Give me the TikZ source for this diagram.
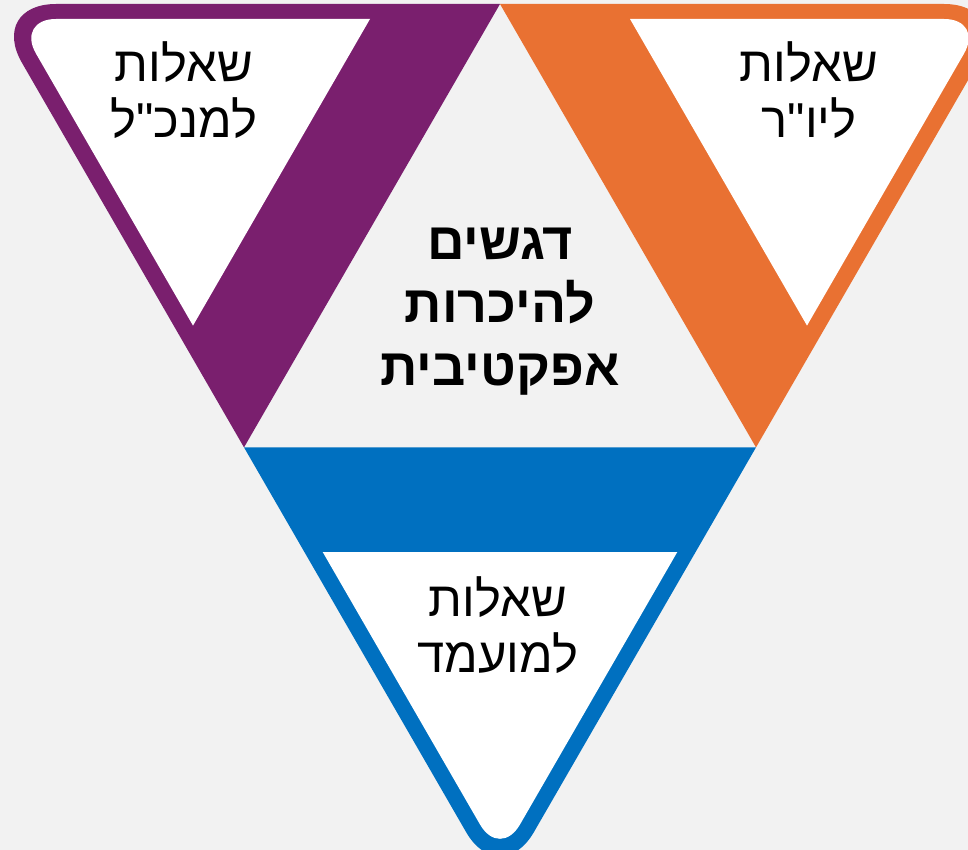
\documentclass[tikz,border=0pt]{standalone}
\usepackage{fontspec}
\setmainfont{Liberation Sans}
\newfontfamily\hebfont[Script=Hebrew]{Liberation Sans}
\TeXXeTstate=1
\definecolor{bgc}{HTML}{F2F2F2}
\definecolor{purp}{HTML}{7A1F6E}
\definecolor{oran}{HTML}{E97132}
\definecolor{blu}{HTML}{0070C0}
\tikzset{
  lbl/.style={inner sep=0pt, align=center, font=\hebfont\fontsize{49}{56}\selectfont, text=black},
  ctr/.style={inner sep=0pt, align=center, font=\hebfont\bfseries\fontsize{52}{63}\selectfont, text=black},
  inwhite/.style={fill=white}
}
\begin{document}
\begin{tikzpicture}[x=1pt,y=-1pt]
\useasboundingbox (0,0) rectangle (968,850);
\fill[bgc] (0,0) rectangle (968,850);
\clip (0,0) rectangle (968,850);
% purple
\fill[purp] (500,4) -- (244,447.4) -- (120,232.6) [rounded corners=68] -- (-12,4) -- (200,4) [sharp corners] -- cycle;
\fill[inwhite] (370,19) -- (193,325.6) -- (100,164.5) [rounded corners=40] -- (16,19) -- (200,19) [sharp corners] -- cycle;
% orange
\fill[oran] (500,4) -- (756,447.4) -- (880,232.6) [rounded corners=68] -- (1012,4) -- (800,4) [sharp corners] -- cycle;
\fill[inwhite] (630,19) -- (807,325.6) -- (900,164.5) [rounded corners=40] -- (984,19) -- (800,19) [sharp corners] -- cycle;
% blue
\fill[blu] (244,447.4) -- (756,447.4) -- (628,669.1) [rounded corners=68] -- (500,890.8) -- (372,669.1) [sharp corners] -- cycle;
\fill[inwhite] (322.7,552) -- (677.3,552) -- (600,685.9) [rounded corners=40] -- (500,859.1) -- (400,685.9) [sharp corners] -- cycle;
% texts
\node[lbl, anchor=base] (tp) at (184,138) {\beginR שאלות\endR\\\beginR למנכ"ל\endR};
\node[lbl, anchor=base] (to) at (809,138) {\beginR שאלות\endR\\\beginR ליו"ר\endR};
\node[lbl, anchor=base] (tb) at (498,672) {\beginR שאלות\endR\\\beginR למועמד\endR};
\node[ctr, anchor=base] (tc) at (500,385) {\beginR דגשים\endR\\\beginR להיכרות\endR\\\beginR אפקטיבית\endR};
\end{tikzpicture}
\end{document}
